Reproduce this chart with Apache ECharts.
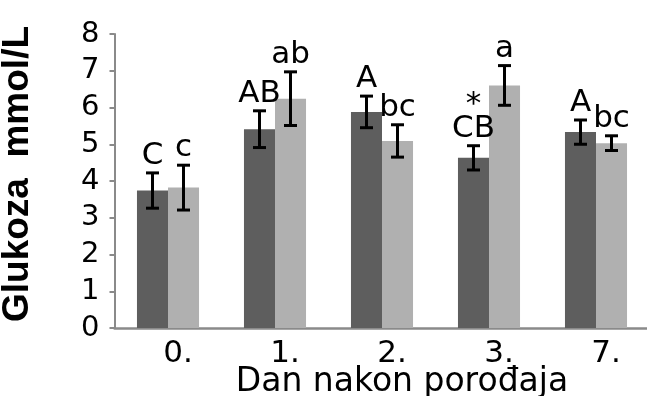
<!DOCTYPE html>
<html>
<head>
<meta charset="utf-8">
<script src="https://cdn.jsdelivr.net/npm/echarts@6/dist/echarts.min.js"></script>
<style>
  html, body { margin: 0; padding: 0; background: #fff; }
  #chart { width: 647px; height: 396px; }
</style>
</head>
<body>
<div id="chart"></div>
<script>
// Days after calving
const categories = ['0.', '1.', '2.', '3.', '7.'];

// Glucose (mmol/L), group 1 (dark bars)
const darkMeans = [3.74, 5.41, 5.88, 4.63, 5.33];
const darkErr   = [0.48, 0.50, 0.43, 0.33, 0.33];
const darkLetters = ['C', 'AB', 'A', '*\nCB', 'A'];

// Glucose (mmol/L), group 2 (light bars)
const lightMeans = [3.82, 6.24, 5.09, 6.60, 5.03];
const lightErr   = [0.61, 0.73, 0.44, 0.54, 0.20];
const lightLetters = ['c', 'ab', 'bc', 'a', 'bc'];

const CAT_GAP = 0.42;          // share of each category left empty
const AXIS_GREY = '#8a8a8a';
const TXT_FONT = '"DejaVu Sans", sans-serif';

function errorSeries(means, errs, letters, side) {
  return {
    type: 'custom',
    silent: true,
    z: 5,
    data: means.map((m, i) => [i, m - errs[i], m + errs[i]]),
    encode: { x: 0, y: [1, 2] },
    renderItem(params, api) {
      const i = api.value(0);
      const lo = api.value(1);
      const hi = api.value(2);
      const band = api.size([1, 0])[0];
      const barW = band * (1 - CAT_GAP) / 2;
      const x = api.coord([i, 0])[0] + side * barW / 2;
      const yTop = api.coord([i, hi])[1];
      const yBot = api.coord([i, lo])[1];
      const half = 6.5;
      const stroke = { stroke: '#000', lineWidth: 3 };
      return {
        type: 'group',
        children: [
          { type: 'line', shape: { x1: x, y1: yTop, x2: x, y2: yBot }, style: stroke },
          { type: 'line', shape: { x1: x - half, y1: yTop, x2: x + half, y2: yTop }, style: stroke },
          { type: 'line', shape: { x1: x - half, y1: yBot, x2: x + half, y2: yBot }, style: stroke },
          {
            type: 'text',
            style: {
              text: letters[params.dataIndex],
              x: x,
              y: yTop - 5,
              align: 'center',
              verticalAlign: 'bottom',
              fill: '#000',
              fontSize: 31,
              lineHeight: 24,
              fontFamily: TXT_FONT
            }
          }
        ]
      };
    }
  };
}

const chart = echarts.init(document.getElementById('chart'), null, { renderer: 'canvas' });

chart.setOption({
  animation: false,
  backgroundColor: '#fff',
  grid: {
    left: 114.5, right: -2.5, top: 34, bottom: 68,
    containLabel: false,
    outerBoundsMode: 'none'
  },
  xAxis: {
    type: 'category',
    data: categories,
    name: 'Dan nakon porođaja',
    nameLocation: 'middle',
    nameGap: 38,
    nameMoveOverlap: false,
    nameTextStyle: {
      fontSize: 33,
      fontFamily: TXT_FONT,
      color: '#000',
      padding: [0, 0, 0, 40]
    },
    axisLine: { lineStyle: { color: AXIS_GREY, width: 2.5 } },
    axisTick: { show: false },
    axisLabel: {
      fontSize: 31,
      fontFamily: TXT_FONT,
      color: '#000',
      margin: 10,
      padding: [0, 0, 0, 20]
    }
  },
  yAxis: {
    type: 'value',
    min: 0,
    max: 8,
    interval: 1,
    name: 'Glukoza  mmol/L',
    nameLocation: 'middle',
    nameRotate: 90,
    nameGap: 78,
    nameMoveOverlap: false,
    nameTextStyle: {
      fontSize: 37,
      fontWeight: 'bold',
      fontFamily: '"Liberation Sans", Arial, sans-serif',
      color: '#000',
      padding: [0, 0, 0, 14]
    },
    axisLine: { show: true, lineStyle: { color: AXIS_GREY, width: 2 } },
    axisTick: { show: true, length: 5, lineStyle: { color: AXIS_GREY, width: 2 } },
    splitLine: { show: false },
    axisLabel: {
      fontSize: 29,
      fontFamily: TXT_FONT,
      color: '#000',
      margin: 15
    }
  },
  series: [
    {
      name: 'grupa 1',
      type: 'bar',
      data: darkMeans,
      barGap: '0%',
      barCategoryGap: (CAT_GAP * 100) + '%',
      itemStyle: { color: '#5e5e5e' }
    },
    {
      name: 'grupa 2',
      type: 'bar',
      data: lightMeans,
      barGap: '0%',
      barCategoryGap: (CAT_GAP * 100) + '%',
      itemStyle: { color: '#b0b0b0' }
    },
    errorSeries(darkMeans, darkErr, darkLetters, -1),
    errorSeries(lightMeans, lightErr, lightLetters, 1)
  ]
});
</script>
</body>
</html>
